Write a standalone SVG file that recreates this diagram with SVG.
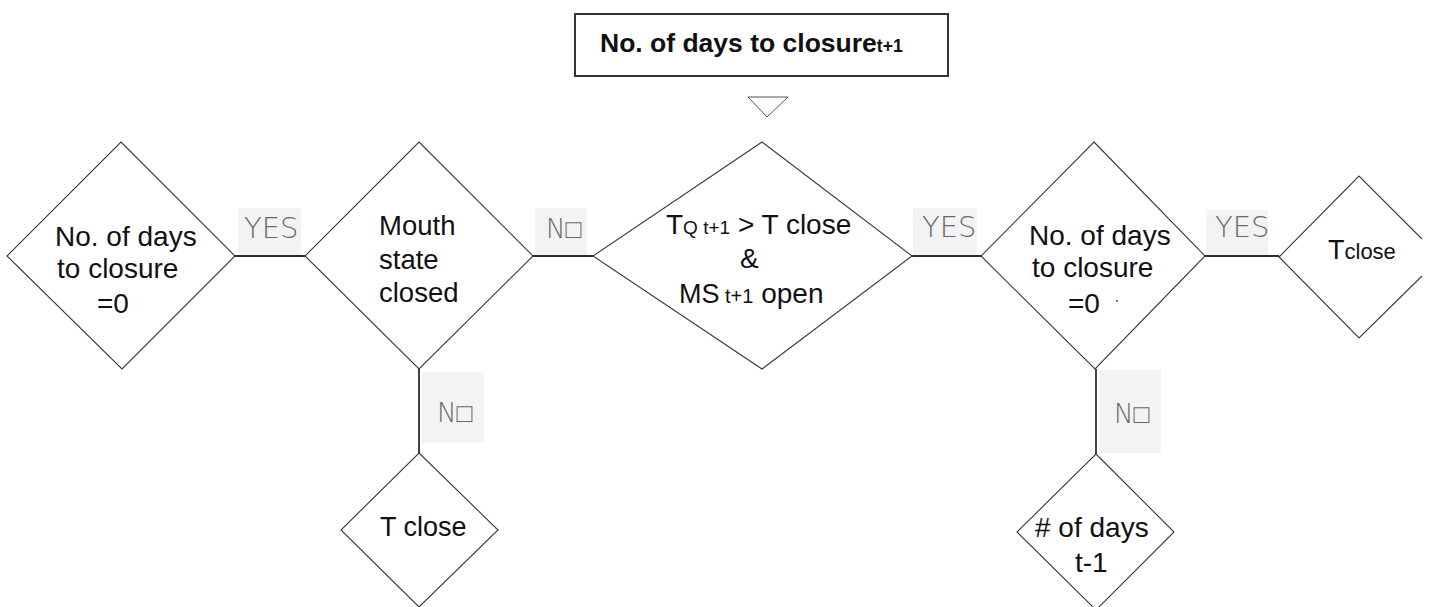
<svg xmlns="http://www.w3.org/2000/svg" width="1431" height="607" viewBox="0 0 1431 607">
<style>
.shape{fill:#fff;stroke:#3a3a3a;stroke-width:1.1}
.conn{stroke:#2e2e2e;stroke-width:1.8;fill:none}
.lblbg{fill:#f3f3f3}
.lbl{font-family:"DejaVu Sans","Liberation Sans",sans-serif;font-weight:200;fill:#6a6a6a}
.t{font-family:"Liberation Sans",Arial,sans-serif;fill:#111}
</style>
<rect width="1431" height="607" fill="#fff"/>
<g id="title">
<rect x="575" y="14" width="373" height="62" fill="#fff" stroke="#333" stroke-width="2"/>
<text class="t" x="600" y="52" font-size="26.5" font-weight="bold">No. of days to closure<tspan font-size="17.5">t+1</tspan></text>
<polygon points="748,97 788,97 767,117" fill="none" stroke="#555" stroke-width="1"/>
</g>
<g id="connectors">
<line class="conn" x1="235" y1="256" x2="305" y2="256"/>
<line class="conn" x1="533" y1="256" x2="593" y2="256"/>
<line class="conn" x1="912" y1="256" x2="981" y2="256"/>
<line class="conn" x1="1205" y1="256" x2="1279" y2="256"/>
<line class="conn" x1="419" y1="369" x2="419" y2="453"/>
<line class="conn" x1="1096" y1="369" x2="1096" y2="454"/>
<rect class="lblbg" x="238" y="208" width="63" height="47"/>
<text class="lbl" x="244" y="238" font-size="29">YES</text>
<rect class="lblbg" x="535" y="208" width="52" height="47"/>
<text class="lbl" x="546" y="238" font-size="26">N□</text>
<rect class="lblbg" x="913" y="208" width="64" height="47"/>
<text class="lbl" x="922" y="237" font-size="29">YES</text>
<rect class="lblbg" x="1206" y="210" width="62" height="45"/>
<text class="lbl" x="1215" y="237" font-size="29">YES</text>
<rect class="lblbg" x="422" y="372" width="62" height="71"/>
<text class="lbl" x="437" y="422" font-size="26">N□</text>
<rect class="lblbg" x="1099" y="370" width="62" height="83"/>
<text class="lbl" x="1114" y="423" font-size="26">N□</text>
</g>
<g id="node-days-zero-left">
<polygon class="shape" points="121,142 235,256 122,369 7,256"/>
<text class="t" font-size="28"><tspan x="55" y="246">No. of days</tspan><tspan x="57" y="278">to closure</tspan><tspan x="97" y="313">=0</tspan></text>
</g>
<g id="node-mouth-state">
<polygon class="shape" points="419,142 533,256 419,369 305,256"/>
<text class="t" font-size="27.5"><tspan x="379" y="235">Mouth</tspan><tspan x="379" y="269">state</tspan><tspan x="379" y="302">closed</tspan></text>
</g>
<g id="node-condition">
<polygon class="shape" points="762,142 912,256 762,369 593,256"/>
<text class="t"><tspan x="666" y="234" font-size="28">T</tspan><tspan font-size="19">Q t+1</tspan><tspan font-size="28"> &gt; T close</tspan></text>
<text class="t" x="740" y="268" font-size="28">&amp;</text>
<text class="t" y="303"><tspan x="679" font-size="27">MS</tspan><tspan font-size="20"> t+1</tspan><tspan font-size="28"> open</tspan></text>
</g>
<g id="node-days-zero-right">
<polygon class="shape" points="1094,142 1205,256 1095,369 981,256"/>
<text class="t" font-size="28"><tspan x="1029" y="245">No. of days</tspan><tspan x="1032" y="277">to closure</tspan><tspan x="1068" y="313">=0</tspan></text>
<circle cx="1117" cy="301" r="1" fill="#555"/>
</g>
<g id="node-tclose-right">
<polyline class="shape" points="1422,239 1359,176 1279,257 1359,338 1422,276"/>
<text class="t" x="1328" y="259"><tspan font-size="27">T</tspan><tspan font-size="22">close</tspan></text>
</g>
<g id="node-tclose-bottom">
<polygon class="shape" points="419,453 498,530 419,607 341,530"/>
<text class="t" x="380" y="536" font-size="27">T close</text>
</g>
<g id="node-days-minus">
<polygon class="shape" points="1096,454 1174,532 1096,610 1017,532"/>
<text class="t" font-size="28"><tspan x="1035" y="537"># of days</tspan><tspan x="1075" y="572">t-1</tspan></text>
</g>
</svg>
